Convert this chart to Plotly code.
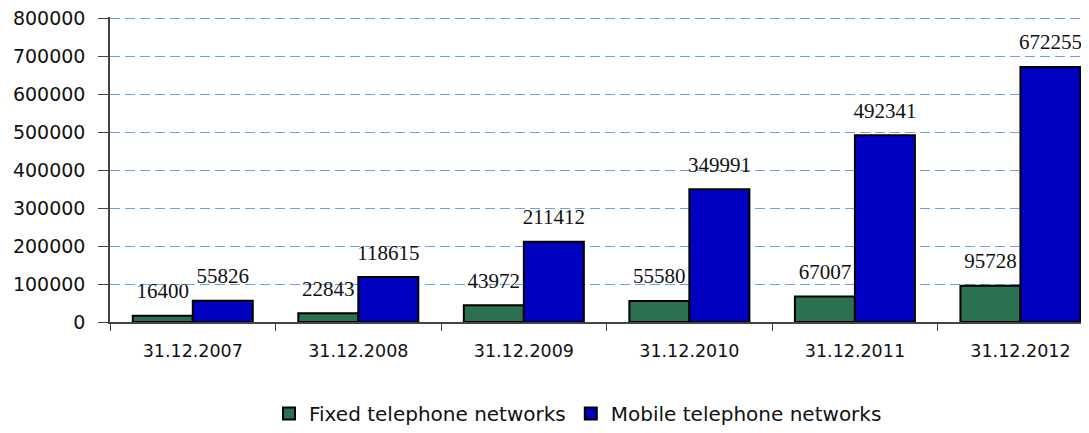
import plotly.graph_objects as go

categories = ["31.12.2007", "31.12.2008", "31.12.2009", "31.12.2010", "31.12.2011", "31.12.2012"]
fixed = [16400, 22843, 43972, 55580, 67007, 95728]
mobile = [55826, 118615, 211412, 349991, 492341, 672255]
y_ticks = [0, 100000, 200000, 300000, 400000, 500000, 600000, 700000, 800000]

label_font = dict(family="Liberation Serif, DejaVu Serif, serif", size=21, color="#111")

fig = go.Figure()
fig.add_trace(go.Bar(
    x=categories, y=fixed, name="Fixed telephone networks",
    marker=dict(color="#2b7050", line=dict(color="#000", width=2)),
))
fig.add_trace(go.Bar(
    x=categories, y=mobile, name="Mobile telephone networks",
    marker=dict(color="#0000c0", line=dict(color="#000", width=2)),
))
# value labels, grouped so they sit above their bars
for vals in (fixed, mobile):
    fig.add_trace(go.Scatter(
        x=categories, y=vals, mode="markers+text",
        text=[str(v) for v in vals], textposition="top center", textfont=label_font,
        marker=dict(size=18, opacity=0), showlegend=False, hoverinfo="skip",
        cliponaxis=False,
    ))

fig.update_layout(
    width=1089, height=433,
    margin=dict(l=102, r=12, t=8.5, b=119),
    paper_bgcolor="white", plot_bgcolor="white",
    barmode="group", bargap=0.275, bargroupgap=0,
    scattermode="group", scattergap=0.275,
    font=dict(family="DejaVu Sans, Verdana, sans-serif", size=16, color="#111"),
    showlegend=True,
    legend=dict(orientation="h", x=0.48, xanchor="center", y=-0.30, yanchor="middle",
                font=dict(size=20), itemwidth=30, tracegroupgap=0),
)
fig.update_xaxes(
    range=[-0.5, 5.39],
    showline=True, linecolor="#444", linewidth=1.5,
    ticks="outside", tickson="boundaries", ticklen=7, tickcolor="#444",
    ticklabelstandoff=12, ticklabeloverflow="allow",
    tickfont=dict(size=17.5), showgrid=False, automargin=False,
)
fig.update_yaxes(
    range=[0, 804000], tickvals=y_ticks, ticktext=[str(v) for v in y_ticks],
    showline=True, linecolor="#444", linewidth=1.5,
    ticks="outside", ticklen=10, tickcolor="#444", ticklabelstandoff=9,
    ticklabeloverflow="allow",
    tickfont=dict(size=19), automargin=False,
    showgrid=True, gridcolor="#6f9fe6", griddash="10px,5px", gridwidth=1,
    zeroline=False,
)

fig.write_html("out.html")
